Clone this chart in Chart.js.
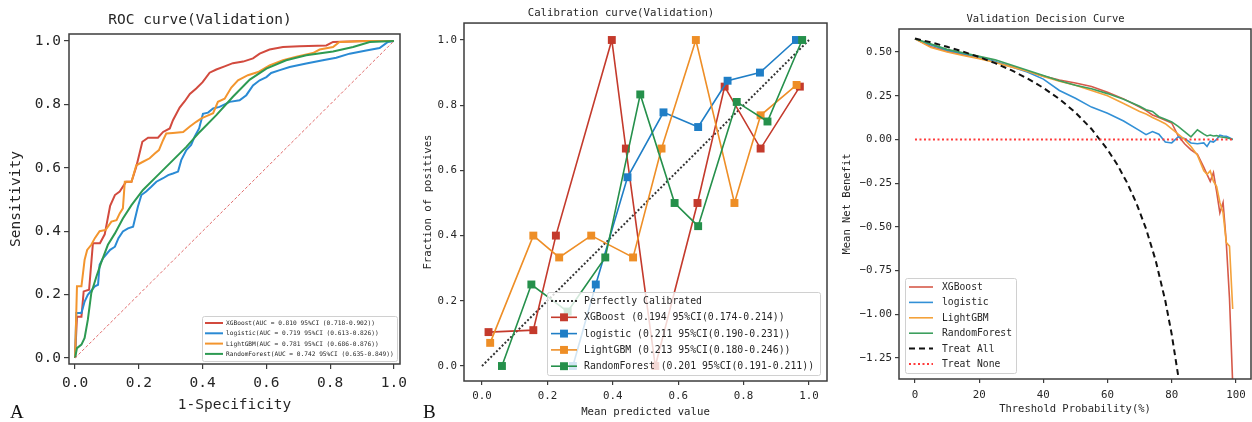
<!DOCTYPE html>
<html>
<head>
<meta charset="utf-8">
<script src="https://cdn.jsdelivr.net/npm/chart.js@4.4.1/dist/chart.umd.min.js"></script>
<style>
  body { margin: 0; background: #fff; }
  #wrap { position: relative; width: 1252px; height: 422px; overflow: hidden; }
  canvas { position: absolute; top: 0; }
  .tag { position: absolute; font-family: "Liberation Serif", "DejaVu Serif", serif; font-size: 19px; line-height: 19px; color: #111; }
</style>
</head>
<body>
<div id="wrap">
  <canvas id="roc" width="415" height="422" style="left:0"></canvas>
  <canvas id="cal" width="425" height="422" style="left:415px"></canvas>
  <canvas id="dca" width="412" height="422" style="left:840px"></canvas>
  <div class="tag" style="left:10px;top:402px">A</div>
  <div class="tag" style="left:423px;top:402px">B</div>
</div>
<script>
const FONT = "'DejaVu Sans Mono', monospace";
const INK = "#262626";
const SPINE = "#3c3c3c";

// panel A: ROC curve, [fpr, tpr] pairs
const rocTicks = [0, 0.2, 0.4, 0.6, 0.8, 1.0];
const rocLabels = [
  "XGBoost(AUC = 0.810 95%CI (0.718-0.902))",
  "logistic(AUC = 0.719 95%CI (0.613-0.826))",
  "LightGBM(AUC = 0.781 95%CI (0.686-0.876))",
  "RandomForest(AUC = 0.742 95%CI (0.635-0.849))"
];
const rocXgb = [[0,0],[0.006,0.13],[0.02,0.13],[0.027,0.21],[0.044,0.215],[0.056,0.362],[0.078,0.362],
  [0.093,0.39],[0.11,0.48],[0.125,0.514],[0.14,0.525],[0.16,0.556],[0.177,0.556],[0.192,0.603],
  [0.211,0.682],[0.229,0.695],[0.26,0.695],[0.276,0.713],[0.297,0.724],[0.307,0.75],[0.328,0.79],
  [0.344,0.81],[0.36,0.833],[0.38,0.85],[0.4,0.87],[0.422,0.9],[0.443,0.91],[0.469,0.92],[0.495,0.93],
  [0.527,0.935],[0.558,0.945],[0.579,0.96],[0.61,0.973],[0.652,0.981],[0.704,0.983],[0.788,0.986],
  [0.809,0.997],[0.913,1],[1,1]];
const rocLogistic = [[0,0],[0.004,0.142],[0.02,0.142],[0.03,0.178],[0.04,0.199],[0.062,0.226],[0.072,0.231],
  [0.077,0.294],[0.088,0.315],[0.11,0.341],[0.125,0.351],[0.136,0.378],[0.15,0.399],[0.166,0.409],
  [0.182,0.414],[0.197,0.477],[0.208,0.514],[0.223,0.525],[0.239,0.54],[0.255,0.556],[0.276,0.567],
  [0.292,0.577],[0.307,0.582],[0.323,0.588],[0.333,0.624],[0.349,0.656],[0.364,0.672],[0.375,0.698],
  [0.389,0.724],[0.401,0.77],[0.417,0.774],[0.433,0.787],[0.453,0.792],[0.485,0.808],[0.516,0.813],
  [0.537,0.829],[0.558,0.86],[0.579,0.876],[0.6,0.886],[0.615,0.899],[0.642,0.908],[0.673,0.918],
  [0.725,0.929],[0.777,0.939],[0.819,0.947],[0.861,0.96],[0.913,0.97],[0.955,0.978],[0.981,0.997],[1,1]];
const rocLgbm = [[0,0],[0.006,0.226],[0.02,0.226],[0.03,0.31],[0.038,0.341],[0.051,0.357],[0.062,0.378],
  [0.077,0.4],[0.096,0.404],[0.114,0.43],[0.13,0.435],[0.14,0.456],[0.15,0.472],[0.156,0.556],
  [0.177,0.556],[0.192,0.608],[0.213,0.619],[0.234,0.63],[0.25,0.645],[0.263,0.656],[0.276,0.687],
  [0.286,0.708],[0.307,0.71],[0.339,0.713],[0.36,0.73],[0.38,0.745],[0.396,0.756],[0.412,0.763],
  [0.433,0.772],[0.448,0.808],[0.469,0.818],[0.49,0.853],[0.511,0.876],[0.542,0.892],[0.574,0.902],
  [0.61,0.923],[0.652,0.939],[0.694,0.95],[0.746,0.962],[0.767,0.973],[0.809,0.981],[0.829,0.997],
  [0.913,1],[1,1]];
const rocForest = [[0,0],[0.006,0.031],[0.02,0.042],[0.03,0.063],[0.04,0.12],[0.051,0.205],[0.067,0.257],
  [0.083,0.304],[0.103,0.357],[0.125,0.393],[0.15,0.44],[0.177,0.482],[0.213,0.53],[0.255,0.572],
  [0.297,0.614],[0.349,0.666],[0.391,0.713],[0.443,0.766],[0.495,0.824],[0.548,0.878],[0.6,0.913],
  [0.662,0.939],[0.725,0.955],[0.809,0.967],[0.872,0.981],[0.924,0.997],[1,1]];
const rocChance = [[0,0],[1,1]];

// panel B: calibration curve, [mean predicted, fraction of positives]
const calTicks = [0, 0.2, 0.4, 0.6, 0.8, 1.0];
const calLabels = [
  "Perfectly Calibrated",
  "XGBoost (0.194 95%CI(0.174-0.214))",
  "logistic (0.211 95%CI(0.190-0.231))",
  "LightGBM (0.213 95%CI(0.180-0.246))",
  "RandomForest (0.201 95%CI(0.191-0.211))"
];
const calPerfect = [[0,0],[1,1]];
const calXgb = [[0.02,0.104],[0.157,0.11],[0.226,0.4],[0.397,1.0],[0.44,0.667],[0.53,0.0],
  [0.659,0.5],[0.742,0.857],[0.852,0.667],[0.972,0.857]];
const calLogistic = [[0.278,0.0],[0.348,0.25],[0.445,0.579],[0.555,0.778],[0.661,0.733],
  [0.751,0.875],[0.85,0.9],[0.96,1.0]];
const calLgbm = [[0.025,0.071],[0.157,0.4],[0.236,0.333],[0.334,0.4],[0.462,0.333],[0.549,0.667],
  [0.654,1.0],[0.772,0.5],[0.852,0.769],[0.962,0.862]];
const calForest = [[0.061,0.0],[0.151,0.25],[0.262,0.167],[0.377,0.333],[0.484,0.833],[0.589,0.5],
  [0.661,0.429],[0.779,0.81],[0.873,0.75],[0.979,1.0]];

// panel C: decision curve, net benefit per threshold (%)
const dcaXTicks = [0, 20, 40, 60, 80, 100];
const dcaYTicks = [0.5, 0.25, 0, -0.25, -0.5, -0.75, -1.0, -1.25];
const dcaLabels = ["XGBoost", "logistic", "LightGBM", "RandomForest", "Treat All", "Treat None"];
const dcaThresh = [0,5,10,15,20,25,30,35,40,45,50,55,60,65,70,72,74,76,78,80,82,84,86,88,90,91,92,93,94,95,96,97,98,99];
const dcaXgb = [0.576,0.53,0.505,0.485,0.466,0.443,0.418,0.39,0.362,0.34,0.323,0.303,0.27,0.232,0.185,0.165,
  0.14,0.125,0.11,0.094,0.02,-0.025,-0.06,-0.085,-0.16,-0.2,-0.24,-0.19,-0.3,-0.42,-0.36,-0.59,-0.91,-1.4];
const dcaLogistic = [0.576,0.54,0.51,0.49,0.47,0.445,0.415,0.385,0.345,0.28,0.235,0.185,0.15,0.105,0.05,0.027,
  0.045,0.03,-0.015,-0.02,0.015,0.005,-0.02,-0.025,-0.02,-0.04,-0.01,-0.015,0.0,0.025,0.02,0.018,0.01,0.0];
const dcaLgbm = [0.576,0.525,0.5,0.48,0.462,0.44,0.415,0.39,0.36,0.333,0.31,0.28,0.25,0.205,0.16,0.145,
  0.125,0.108,0.09,0.06,0.03,0.0,-0.04,-0.09,-0.18,-0.2,-0.18,-0.24,-0.27,-0.36,-0.42,-0.59,-0.61,-0.97];
const dcaForest = [0.576,0.545,0.515,0.495,0.475,0.455,0.425,0.395,0.365,0.335,0.31,0.29,0.262,0.23,0.19,0.17,
  0.16,0.13,0.115,0.1,0.075,0.045,0.015,0.055,0.03,0.02,0.025,0.02,0.022,0.015,0.012,0.01,0.005,0.0];
const allThresh = [0,5,10,15,20,25,30,35,40,45,50,55,60,63,66,69,72,75,78,80,82,84];
const allBenefit = [0.577,0.555,0.53,0.502,0.471,0.436,0.396,0.349,0.295,0.231,0.154,0.06,-0.058,-0.143,
  -0.244,-0.365,-0.511,-0.692,-0.923,-1.115,-1.35,-1.64];
const noneThresh = [0, 99];
const noneBenefit = [0, 0];

function pts(pairs) {
  return pairs.map(([x, y]) => ({ x, y }));
}
function zipPts(xs, ys) {
  return xs.map((x, i) => ({ x, y: ys[i] }));
}

// matplotlib-like box round the plot area
const frame = {
  id: "frame",
  afterDraw(chart) {
    const a = chart.chartArea;
    const c = chart.ctx;
    c.save();
    c.strokeStyle = SPINE;
    c.lineWidth = chart.options.plugins.frame.width;
    c.strokeRect(a.left, a.top, a.right - a.left, a.bottom - a.top);
    c.restore();
  }
};

// legend box drawn inside the plot, built from the datasets
const boxLegend = {
  id: "boxLegend",
  afterDraw(chart) {
    const o = chart.options.plugins.boxLegend;
    const c = chart.ctx;
    c.save();
    c.fillStyle = "rgba(255,255,255,0.8)";
    c.strokeStyle = "#d0d0d0";
    c.lineWidth = 1;
    c.beginPath();
    c.roundRect(o.left + 0.5, o.top + 0.5, o.width, o.height, 2);
    c.fill();
    c.stroke();
    c.font = o.size + "px " + FONT;
    c.textBaseline = "middle";
    let row = 0;
    chart.data.datasets.forEach(ds => {
      if (ds.inLegend === false) return;
      const y = o.top + o.first + row * o.step;
      c.strokeStyle = ds.borderColor;
      c.lineWidth = ds.borderWidth;
      c.setLineDash(ds.borderDash || []);
      c.beginPath();
      c.moveTo(o.left + o.lineStart, y);
      c.lineTo(o.left + o.lineEnd, y);
      c.stroke();
      c.setLineDash([]);
      if (ds.pointRadius > 0) {
        const s = ds.pointRadius * Math.SQRT1_2;
        c.fillStyle = ds.borderColor;
        c.fillRect(o.left + (o.lineStart + o.lineEnd) / 2 - s, y - s, 2 * s, 2 * s);
      }
      c.fillStyle = INK;
      c.fillText(ds.label, o.left + o.textStart, y + 0.5);
      row++;
    });
    c.restore();
  }
};

function axis(o) {
  return {
    type: "linear",
    min: o.min,
    max: o.max,
    afterBuildTicks: scale => { scale.ticks = o.ticks.map(v => ({ value: v })); },
    afterFit: scale => {
      if (scale.isHorizontal()) scale.height = o.size;
      else scale.width = o.size;
    },
    border: { display: false },
    grid: { drawOnChartArea: false, tickLength: o.tickLen, color: SPINE, lineWidth: 1.2 },
    ticks: {
      color: INK,
      autoSkip: false,
      maxRotation: 0,
      padding: o.tickPad,
      font: { family: FONT, size: o.tickSize },
      callback: o.fmt
    },
    title: {
      display: true,
      text: o.title,
      color: INK,
      font: { family: FONT, size: o.titleSize },
      padding: o.titlePad
    }
  };
}

function line(label, data, color, width, extra) {
  return Object.assign({
    label: label,
    data: data,
    borderColor: color,
    backgroundColor: color,
    borderWidth: width,
    pointRadius: 0,
    tension: 0,
    fill: false
  }, extra || {});
}

function stackOrder(datasets) {
  // later series on top, as in matplotlib
  datasets.forEach((ds, i) => { ds.order = datasets.length - i; });
  return datasets;
}

const one = v => v.toFixed(1);

// ---- A: ROC
new Chart(document.getElementById("roc"), {
  type: "line",
  data: {
    datasets: stackOrder([
      line(rocLabels[0], pts(rocXgb), "#d24a3e", 2),
      line(rocLabels[1], pts(rocLogistic), "#2a8ad4", 2),
      line(rocLabels[2], pts(rocLgbm), "#f3952e", 2),
      line(rocLabels[3], pts(rocForest), "#2d9a52", 2),
      line("chance", pts(rocChance), "#e06a6a", 1, { borderDash: [3, 2], inLegend: false })
    ])
  },
  options: {
    responsive: false,
    animation: false,
    layout: { padding: { right: 15, top: 0, bottom: 0, left: 0 } },
    scales: {
      x: axis({ min: -0.019, max: 1.019, ticks: rocTicks, size: 58, tickLen: 5, tickPad: 6, tickSize: 14.5,
        fmt: one, title: "1-Specificity", titleSize: 14.5, titlePad: { top: 0, bottom: 8 } }),
      y: axis({ min: -0.019, max: 1.022, ticks: rocTicks, size: 69, tickLen: 5, tickPad: 3, tickSize: 14.5,
        fmt: one, title: "Sensitivity", titleSize: 14.5, titlePad: { top: 8, bottom: 0 } })
    },
    plugins: {
      legend: { display: false },
      tooltip: { enabled: false },
      title: { display: true, text: "ROC curve(Validation)", color: INK,
        font: { family: FONT, size: 14.5, weight: "normal" }, padding: { top: 12, bottom: 4.6 } },
      frame: { width: 1.5 },
      boxLegend: { left: 202, top: 316, width: 195, height: 45, first: 7, step: 10.3,
        lineStart: 3, lineEnd: 21, textStart: 24, size: 6.2 }
    }
  },
  plugins: [frame, boxLegend]
});

// ---- B: calibration
const calMarker = { pointStyle: "rect", pointRadius: 5.6, pointBorderWidth: 0 };
new Chart(document.getElementById("cal"), {
  type: "line",
  data: {
    datasets: stackOrder([
      line(calLabels[0], pts(calPerfect), "#333333", 2, { borderDash: [2, 2] }),
      line(calLabels[1], pts(calXgb), "#c43a2c", 1.6, calMarker),
      line(calLabels[2], pts(calLogistic), "#1f7ec6", 1.6, calMarker),
      line(calLabels[3], pts(calLgbm), "#ee8e26", 1.6, calMarker),
      line(calLabels[4], pts(calForest), "#25904b", 1.6, calMarker)
    ])
  },
  options: {
    responsive: false,
    animation: false,
    layout: { padding: { right: 13, top: 0, bottom: 0, left: 0 } },
    scales: {
      x: axis({ min: -0.055, max: 1.055, ticks: calTicks, size: 41, tickLen: 4, tickPad: 5, tickSize: 10.8,
        fmt: one, title: "Mean predicted value", titleSize: 10.7, titlePad: { top: 0, bottom: 3.6 } }),
      y: axis({ min: -0.046, max: 1.052, ticks: calTicks, size: 49, tickLen: 4, tickPad: 3, tickSize: 10.8,
        fmt: one, title: "Fraction of positives", titleSize: 10.7, titlePad: { top: 6.6, bottom: 0 } })
    },
    plugins: {
      legend: { display: false },
      tooltip: { enabled: false },
      title: { display: true, text: "Calibration curve(Validation)", color: INK,
        font: { family: FONT, size: 10.7, weight: "normal" }, padding: { top: 6.6, bottom: 3.6 } },
      frame: { width: 1.5 },
      boxLegend: { left: 132, top: 292, width: 273, height: 83, first: 9, step: 16.3,
        lineStart: 4, lineEnd: 30, textStart: 37, size: 9.8 }
    }
  },
  plugins: [frame, boxLegend]
});

// ---- C: decision curve
const two = v => v.toFixed(2).replace("-", "\u2212");
new Chart(document.getElementById("dca"), {
  type: "line",
  data: {
    datasets: stackOrder([
      line(dcaLabels[0], zipPts(dcaThresh, dcaXgb), "#d65a4a", 1.6),
      line(dcaLabels[1], zipPts(dcaThresh, dcaLogistic), "#3290d6", 1.6),
      line(dcaLabels[2], zipPts(dcaThresh, dcaLgbm), "#f4a23a", 1.6),
      line(dcaLabels[3], zipPts(dcaThresh, dcaForest), "#3d9f5e", 1.6),
      line(dcaLabels[4], zipPts(allThresh, allBenefit), "#111111", 2, { borderDash: [6, 4] }),
      line(dcaLabels[5], zipPts(noneThresh, noneBenefit), "#ff3b3b", 2, { borderDash: [2, 2.5] })
    ])
  },
  options: {
    responsive: false,
    animation: false,
    layout: { padding: { right: 1, top: 0, bottom: 0, left: 0 } },
    scales: {
      x: axis({ min: -4.98, max: 104.7, ticks: dcaXTicks, size: 43, tickLen: 4, tickPad: 5.5, tickSize: 10.8,
        fmt: v => String(v), title: "Threshold Probability(%)", titleSize: 10.5, titlePad: { top: 0, bottom: 6.7 } }),
      y: axis({ min: -1.37, max: 0.6315, ticks: dcaYTicks, size: 59, tickLen: 4, tickPad: 3, tickSize: 10.8,
        fmt: two, title: "Mean Net Benefit", titleSize: 10.5, titlePad: { top: 1, bottom: 0 } })
    },
    plugins: {
      legend: { display: false },
      tooltip: { enabled: false },
      title: { display: true, text: "Validation Decision Curve", color: INK,
        font: { family: FONT, size: 10.5, weight: "normal" }, padding: { top: 12.7, bottom: 3.7 } },
      frame: { width: 1.5 },
      boxLegend: { left: 65, top: 278, width: 111, height: 95, first: 9, step: 15.4,
        lineStart: 4, lineEnd: 28, textStart: 37, size: 9.7 }
    }
  },
  plugins: [frame, boxLegend]
});
</script>
</body>
</html>
